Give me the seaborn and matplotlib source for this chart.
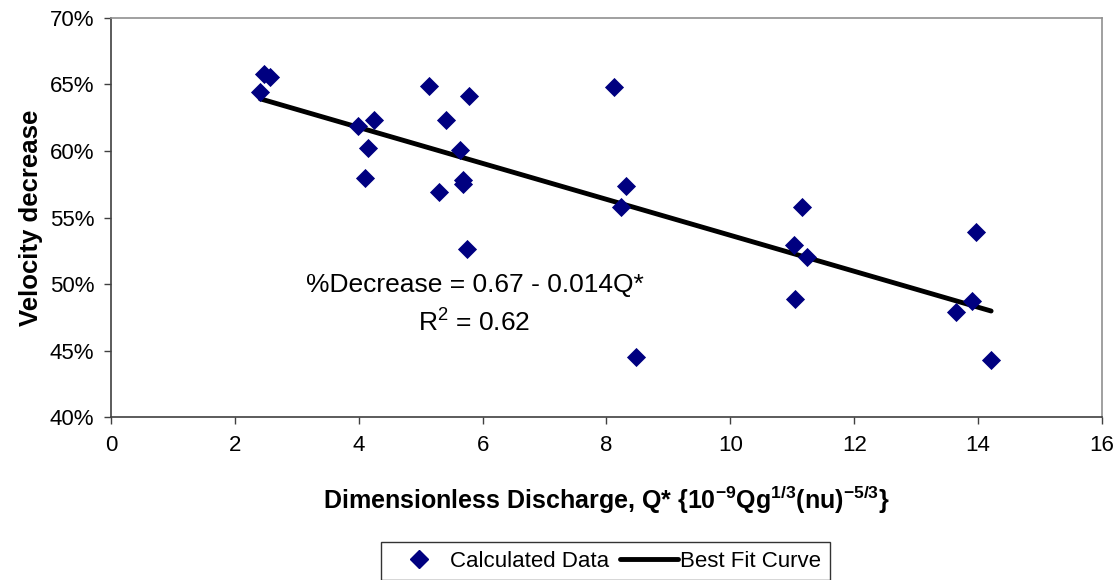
import numpy as np
import pandas as pd
import matplotlib
matplotlib.use('Agg')
import matplotlib.pyplot as plt
import seaborn as sns
from matplotlib.ticker import PercentFormatter, MultipleLocator
from matplotlib.lines import Line2D

# dimensionless discharge Q* and velocity decrease (%)
q_star = [2.41, 2.47, 2.57, 3.98, 4.24, 4.15, 4.10, 5.13, 5.78, 5.41,
          5.64, 5.68, 5.69, 5.30, 5.75, 8.12, 8.32, 8.23, 8.48,
          11.16, 11.02, 11.23, 11.05, 13.64, 13.90, 13.96, 14.21]
vel_decrease = [64.4, 65.8, 65.6, 61.9, 62.3, 60.2, 58.0, 64.9, 64.1, 62.3,
                60.1, 57.8, 57.5, 56.9, 52.6, 64.8, 57.4, 55.8, 44.5,
                55.8, 52.9, 52.0, 48.9, 47.9, 48.7, 53.9, 44.3]

eq_text = '%Decrease = 0.67 - 0.014Q*'
r2_text = '$\\mathregular{R^2}$ = 0.62'

df = pd.DataFrame({'q': q_star, 'v': vel_decrease})

sns.set_style('white')
plt.rcParams['font.family'] = ['Liberation Sans', 'DejaVu Sans']
plt.rcParams['text.color'] = 'black'
plt.rcParams['axes.labelcolor'] = 'black'

fig = plt.figure(figsize=(11.19, 5.8), dpi=100)
ax = fig.add_axes([0.0992, 0.281, 0.8856, 0.688])

navy = '#000080'
sns.regplot(data=df, x='q', y='v', scatter=False, ci=None, ax=ax,
            line_kws={'color': 'black', 'lw': 3.5, 'solid_capstyle': 'round'})
sns.scatterplot(data=df, x='q', y='v', marker='D', s=95, color=navy,
                edgecolor=navy, linewidth=0, ax=ax, zorder=3)

ax.set_xlim(0, 16)
ax.set_ylim(40, 70)
ax.xaxis.set_major_locator(MultipleLocator(2))
ax.yaxis.set_major_locator(MultipleLocator(5))
ax.yaxis.set_major_formatter(PercentFormatter(100, decimals=0))
ax.tick_params(axis='both', direction='out', length=5, width=1,
               labelsize=16, color='#404040', labelcolor='black',
               bottom=True, left=True)
ax.tick_params(axis='x', pad=8)
ax.tick_params(axis='y', pad=7)

for side in ['left', 'bottom']:
    ax.spines[side].set_color('#404040')
    ax.spines[side].set_linewidth(1.2)
for side in ['top', 'right']:
    ax.spines[side].set_color('#909090')
    ax.spines[side].set_linewidth(1.2)

ax.set_xlabel('Dimensionless Discharge, Q* {10$^{\\mathregular{-9}}$Qg$^{\\mathregular{1/3}}$(nu)$^{\\mathregular{-5/3}}$}',
              fontsize=18, fontweight='bold', labelpad=20)
ax.set_ylabel('Velocity decrease', fontsize=18.5, fontweight='bold', labelpad=5)

ax.text(5.87, 49.9, eq_text, fontsize=19, ha='center', va='center')
ax.text(5.87, 47.1, r2_text, fontsize=19, ha='center', va='center')

handles = [Line2D([], [], marker='D', color=navy, ls='none', markersize=9),
           Line2D([], [], color='black', lw=3.5)]
leg = fig.legend(handles, ['Calculated Data', 'Best Fit Curve'], loc='lower center',
                 bbox_to_anchor=(0.541, -0.02), ncol=2, frameon=True, fancybox=False,
                 edgecolor='black', fontsize=16, handlelength=2.6, handletextpad=0.1,
                 columnspacing=0.5, borderpad=0.4)
leg.get_frame().set_linewidth(1)

fig.savefig('out.png', dpi=100)
